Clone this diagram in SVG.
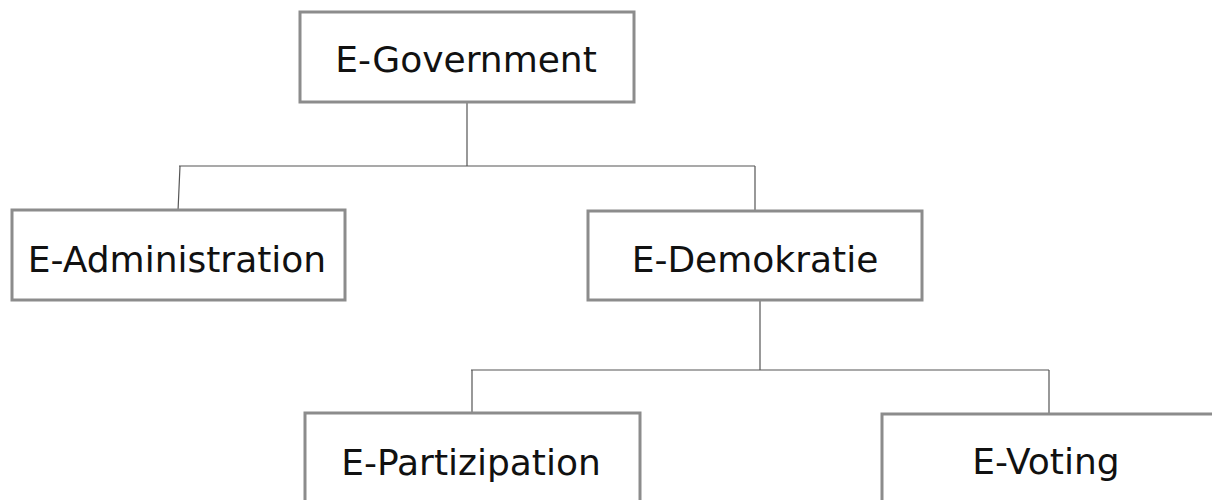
<svg xmlns="http://www.w3.org/2000/svg" width="1212" height="500" viewBox="0 0 1212 500">
  <defs>
    <filter id="soft" x="-5%" y="-5%" width="110%" height="110%">
      <feGaussianBlur stdDeviation="0.7"/>
    </filter>
    <style>
      .box { fill: #ffffff; stroke: #8c8c8c; stroke-width: 3; filter: url(#soft); }
      .label { font-family: "DejaVu Sans", "Liberation Sans", sans-serif; font-size: 36px; fill: #111111; text-anchor: middle; }
      .conn { fill: none; stroke: #555555; stroke-width: 1.2; }
    </style>
  </defs>
  <rect width="1212" height="500" fill="#ffffff"/>
  <g id="connectors">
    <path class="conn" d="M467 102 V166 M179 166 H755 M180 166 L178 211 M755 166 V211"/>
    <path class="conn" d="M760 300 V370 M471 370 H1049 M472 370 V413 M1049 370 V414"/>
  </g>
  <g id="egovernment">
    <rect class="box" x="300" y="12" width="334" height="90"/>
    <text class="label" x="466" y="72">E-Government</text>
  </g>
  <g id="eadministration">
    <rect class="box" x="12" y="210" width="333" height="90"/>
    <text class="label" x="177" y="272">E-Administration</text>
  </g>
  <g id="edemokratie">
    <rect class="box" x="588" y="211" width="334" height="89"/>
    <text class="label" x="755" y="272">E-Demokratie</text>
  </g>
  <g id="epartizipation">
    <rect class="box" x="305" y="413" width="335" height="90"/>
    <text class="label" x="471" y="475">E-Partizipation</text>
  </g>
  <g id="evoting">
    <rect class="box" x="882" y="414" width="334" height="90"/>
    <text class="label" x="1046" y="474">E-Voting</text>
  </g>
</svg>
